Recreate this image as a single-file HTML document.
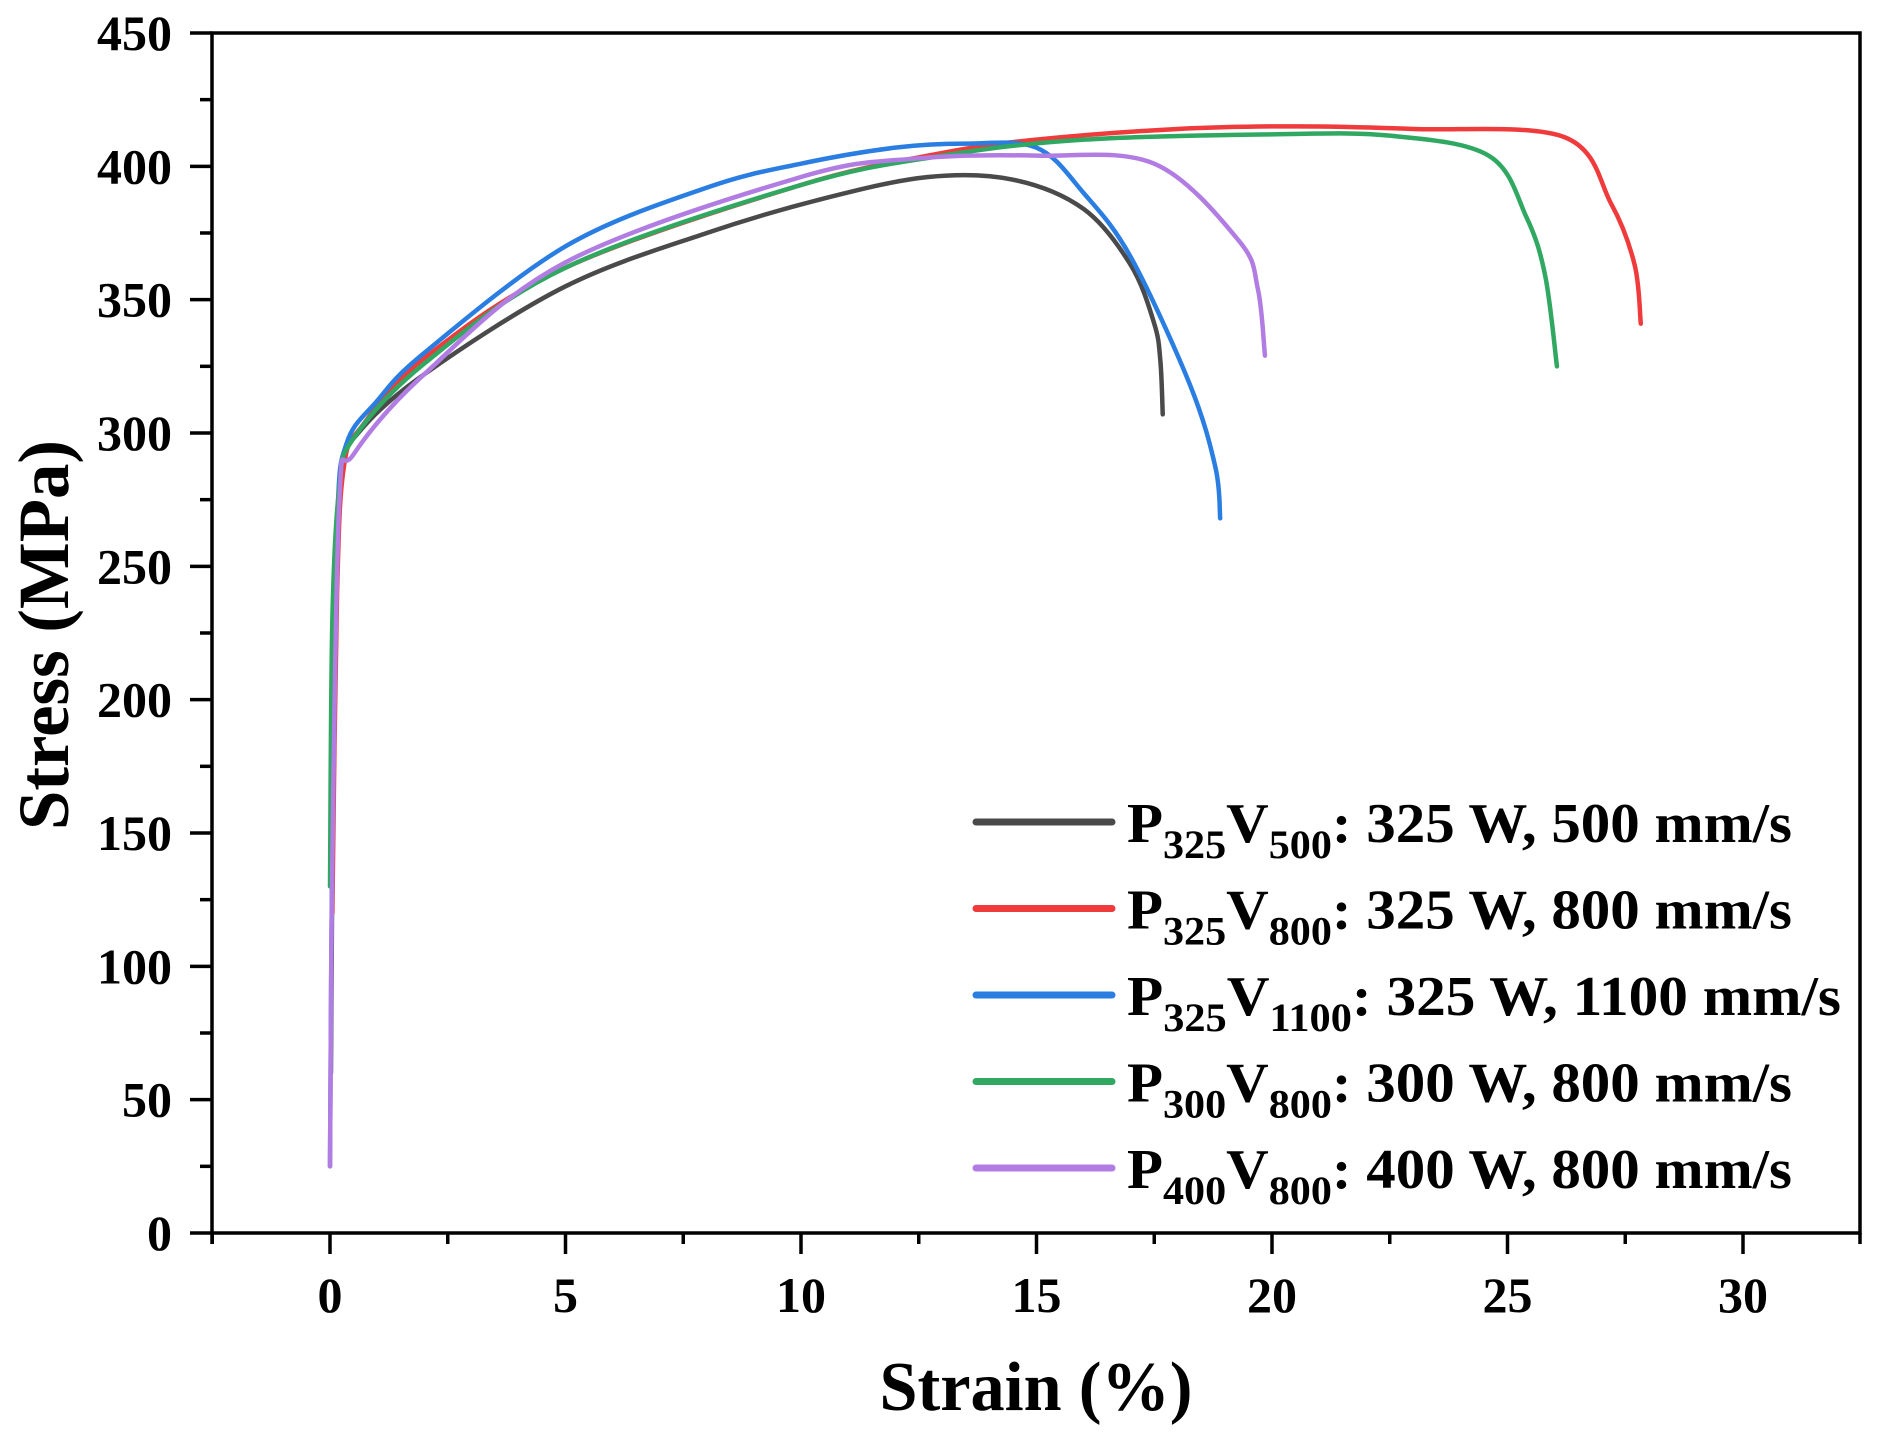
<!DOCTYPE html>
<html><head><meta charset="utf-8">
<style>
html,body{margin:0;padding:0;background:#fff;}
svg{display:block;}
text{font-family:"Liberation Serif",serif;font-weight:bold;fill:#000;}
</style></head>
<body>
<svg id="s" width="1884" height="1433" viewBox="0 0 1884 1433" xmlns="http://www.w3.org/2000/svg">
<g id="curves" fill="none" stroke-width="4.5" stroke-linejoin="round" stroke-linecap="round"></g>
<rect x="212" y="33" width="1648" height="1200" fill="none" stroke="#000" stroke-width="3.5"/>
<g id="ticks" stroke="#000" stroke-width="3.5"></g>
<g id="labels" font-size="50"></g>
<text x="1036" y="1410" font-size="70" text-anchor="middle" textLength="313" lengthAdjust="spacingAndGlyphs">Strain (%)</text>
<text transform="translate(68,635) rotate(-90)" font-size="72" text-anchor="middle" textLength="390" lengthAdjust="spacingAndGlyphs">Stress (MPa)</text>
<g id="legend"></g>
</svg>
<script>
const NS="http://www.w3.org/2000/svg";
const X=x=>330+x*47.1, Y=s=>1233-s*2.6667;
function el(t,a,p,txt){const e=document.createElementNS(NS,t);for(const k in a)e.setAttribute(k,a[k]);if(txt!==undefined)e.textContent=txt;p.appendChild(e);return e;}
const tk=document.getElementById('ticks'),lb=document.getElementById('labels');
for(let v=0;v<=450;v+=25){const y=Y(v),maj=v%50==0;el('line',{x1:212-(maj?22:12),x2:212,y1:y,y2:y},tk);
 if(maj)el('text',{x:172,y:y+17,'text-anchor':'end'},lb,String(v));}
for(let v=-5;v<=35;v+=2.5){const x=X(v);if(x<212||x>1860)continue;const maj=v%5==0;el('line',{x1:x,x2:x,y1:1233,y2:1233+(maj?21:11)},tk);
 if(maj)el('text',{x:x,y:1312,'text-anchor':'middle'},lb,String(v));}
el('line',{x1:212,x2:212,y1:1233,y2:1244},tk);
el('line',{x1:1860,x2:1860,y1:1233,y2:1244},tk);
const series=[
 ['#4a4a4a',[[0.02,60],[0.1,230],[0.25,285],[0.6,300],[2,322],[5,355],[8,375],[10.5,388],[12.7,396],[14.5,395],[16,384],[17,363],[17.5,341],[17.63,327],[17.68,307]]],
 ['#ef3b3b',[[0.05,120],[0.15,240],[0.3,288],[0.7,303],[2,328],[5,362],[10,393],[13,405],[15,410],[18,414],[20.5,415],[23,414],[26.2,411],[27.2,386],[27.7,363],[27.83,341]]],
 ['#2a7de1',[[0.0,25],[0.05,150],[0.15,265],[0.35,296],[1,312],[2,330],[5,370],[8,392],[10,401],[12,407],[13.5,408.5],[15,407],[16,390],[17,366],[18.26,318],[18.8,287],[18.9,268]]],
 ['#30a862',[[0.0,130],[0.05,230],[0.2,280],[0.5,298],[2,326],[5,362],[10,393],[13,404],[16,410],[20,412],[22.5,411.5],[24.6,404],[25.4,381],[25.8,359],[26.05,325]]],
 ['#b27de2',[[0.0,25],[0.05,140],[0.2,275],[0.5,292],[2,322],[5,364],[10,396],[12.5,403],[15,404],[17.5,401],[19.3,372],[19.7,354],[19.85,329]]]
];
const cg=document.getElementById('curves');
series.forEach(([c,pts])=>{const P=pts.map(p=>[X(p[0]),Y(p[1])]);let d='M'+P[0][0]+','+P[0][1];
 for(let i=0;i<P.length-1;i++){const p0=P[i-1]||P[i],p1=P[i],p2=P[i+1],p3=P[i+2]||P[i+1];
  const c1=[p1[0]+(p2[0]-p0[0])/6,p1[1]+(p2[1]-p0[1])/6],c2=[p2[0]-(p3[0]-p1[0])/6,p2[1]-(p3[1]-p1[1])/6];
  d+=` C${c1[0]},${c1[1]} ${c2[0]},${c2[1]} ${p2[0]},${p2[1]}`;}
 el('path',{d:d,stroke:c},cg);});
const lg=document.getElementById('legend');
const L=[['#4a4a4a','325','500','325 W, 500 mm/s'],['#ef3b3b','325','800','325 W, 800 mm/s'],['#2a7de1','325','1100','325 W, 1100 mm/s'],['#30a862','300','800','300 W, 800 mm/s'],['#b27de2','400','800','400 W, 800 mm/s']];
L.forEach((r,i)=>{const y=822+i*86.5;
 el('line',{x1:976,x2:1112,y1:y,y2:y,stroke:r[0],'stroke-width':7,'stroke-linecap':'round'},lg);
 const t=el('text',{x:1127,y:y+20,'font-size':56},lg);
 const a=(s,fs,dy)=>{const e=document.createElementNS(NS,'tspan');if(fs)e.setAttribute('font-size',fs);e.setAttribute('dy',dy);e.textContent=s;t.appendChild(e);return e;};
 a('P',null,0);a(r[1],40,16);a('V',56,-16);a(r[2],40,16);a(': '+r[3],56,-16);
 const w=r[2].length==4?714:665;t.setAttribute('textLength',w);t.setAttribute('lengthAdjust','spacingAndGlyphs');
});
</script>
</body></html>
